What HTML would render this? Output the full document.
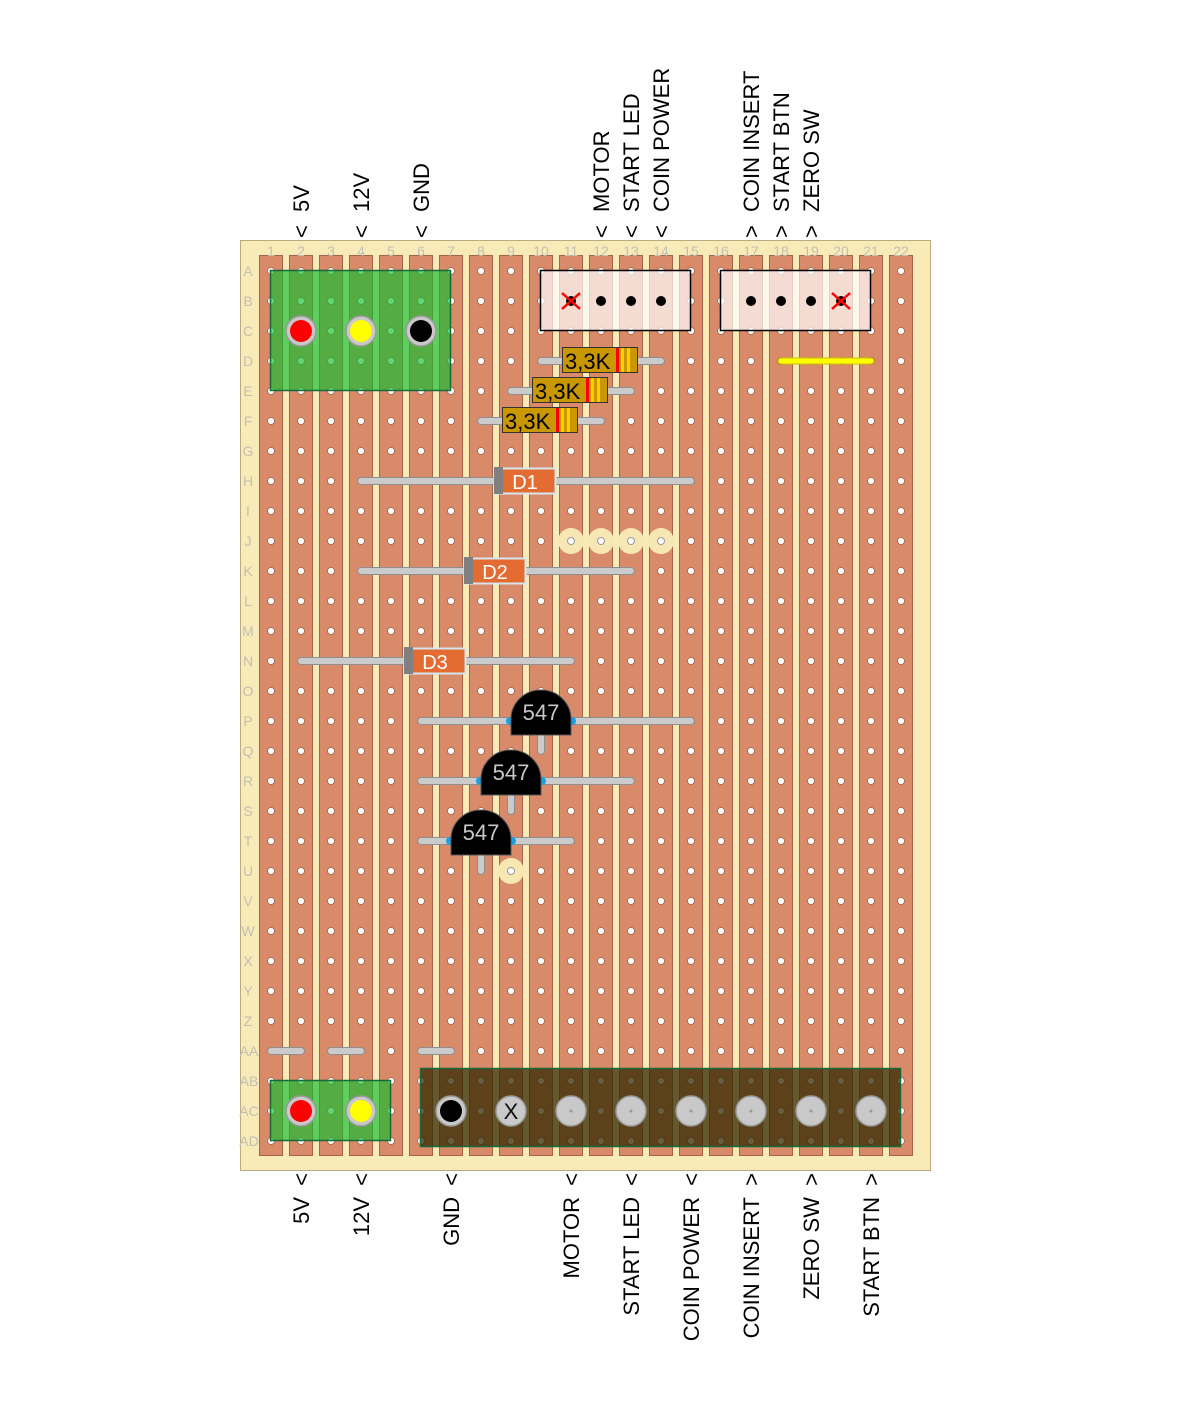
<!DOCTYPE html>
<html><head><meta charset="utf-8"><style>
html,body{margin:0;padding:0;background:#fff;}
svg{display:block;}
text{font-family:"Liberation Sans",sans-serif;}
</style></head><body>
<svg id="s" width="1178" height="1415" viewBox="0 0 1178 1415" xmlns="http://www.w3.org/2000/svg">
<rect x="240.5" y="240.5" width="690" height="930" fill="#f9ebb7" stroke="#b9ab80" stroke-width="1"/>
<g id="strips"></g>
<g id="holes"></g>
<g font-size="14" fill="#c2bfb4" text-anchor="middle">
<text x="271" y="256">1</text><text x="301" y="256">2</text><text x="331" y="256">3</text><text x="361" y="256">4</text><text x="391" y="256">5</text><text x="421" y="256">6</text><text x="451" y="256">7</text><text x="481" y="256">8</text><text x="511" y="256">9</text><text x="541" y="256">10</text><text x="571" y="256">11</text><text x="601" y="256">12</text><text x="631" y="256">13</text><text x="661" y="256">14</text><text x="691" y="256">15</text><text x="721" y="256">16</text><text x="751" y="256">17</text><text x="781" y="256">18</text><text x="811" y="256">19</text><text x="841" y="256">20</text><text x="871" y="256">21</text><text x="901" y="256">22</text>
</g>
<g font-size="14" fill="#c2bfb4" text-anchor="middle">
<text x="248" y="276">A</text><text x="248" y="306">B</text><text x="248" y="336">C</text><text x="248" y="366">D</text><text x="248" y="396">E</text><text x="248" y="426">F</text><text x="248" y="456">G</text><text x="248" y="486">H</text><text x="248" y="516">I</text><text x="248" y="546">J</text><text x="248" y="576">K</text><text x="248" y="606">L</text><text x="248" y="636">M</text><text x="248" y="666">N</text><text x="248" y="696">O</text><text x="248" y="726">P</text><text x="248" y="756">Q</text><text x="248" y="786">R</text><text x="248" y="816">S</text><text x="248" y="846">T</text><text x="248" y="876">U</text><text x="248" y="906">V</text><text x="248" y="936">W</text><text x="248" y="966">X</text><text x="248" y="996">Y</text><text x="248" y="1026">Z</text><text x="249" y="1056">AA</text><text x="249" y="1086">AB</text><text x="249" y="1116">AC</text><text x="249" y="1146">AD</text>
</g>

<!-- pads -->
<g fill="#f7e8b3">
<circle cx="571" cy="541" r="13"/><circle cx="601" cy="541" r="13"/><circle cx="631" cy="541" r="13"/><circle cx="661" cy="541" r="13"/><circle cx="511" cy="871" r="13"/>
</g>
<g fill="#fff" stroke="#999" stroke-width="1">
<circle cx="571" cy="541" r="3.5"/><circle cx="601" cy="541" r="3.5"/><circle cx="631" cy="541" r="3.5"/><circle cx="661" cy="541" r="3.5"/><circle cx="511" cy="871" r="3.5"/>
</g>

<!-- green blocks -->
<rect x="270.5" y="270.5" width="180" height="120" fill="rgba(14,190,48,0.65)" stroke="#17683a" stroke-width="1.5"/>
<rect x="270.5" y="1080.5" width="120" height="60" fill="rgba(14,190,48,0.65)" stroke="#17683a" stroke-width="1.5"/>
<rect x="420.5" y="1068.5" width="480" height="78" fill="rgba(50,40,0,0.75)" stroke="#17683a" stroke-width="1.5"/>

<!-- terminals top -->
<g stroke="#999" stroke-width="1.5" fill="#c9c9c9">
<circle cx="301" cy="331" r="15"/><circle cx="361" cy="331" r="15"/><circle cx="421" cy="331" r="15"/>
<circle cx="301" cy="1111" r="15"/><circle cx="361" cy="1111" r="15"/>
<circle cx="451" cy="1111" r="15"/><circle cx="511" cy="1111" r="15"/>
<circle cx="571" cy="1111" r="15"/><circle cx="631" cy="1111" r="15"/><circle cx="691" cy="1111" r="15"/><circle cx="751" cy="1111" r="15"/><circle cx="811" cy="1111" r="15"/><circle cx="871" cy="1111" r="15"/>
</g>
<circle cx="301" cy="331" r="11" fill="#f00"/><circle cx="361" cy="331" r="11" fill="#ff0"/><circle cx="421" cy="331" r="11" fill="#000"/>
<circle cx="301" cy="1111" r="11" fill="#f00"/><circle cx="361" cy="1111" r="11" fill="#ff0"/><circle cx="451" cy="1111" r="11" fill="#000"/>
<text x="511" y="1119" font-size="22" text-anchor="middle" fill="#111">X</text>
<g fill="#999"><circle cx="571" cy="1111" r="1.5"/><circle cx="631" cy="1111" r="1.5"/><circle cx="691" cy="1111" r="1.5"/><circle cx="751" cy="1111" r="1.5"/><circle cx="811" cy="1111" r="1.5"/><circle cx="871" cy="1111" r="1.5"/></g>

<!-- headers -->
<rect x="540.5" y="270.5" width="150" height="60" fill="rgba(255,255,255,0.7)" stroke="#000" stroke-width="1.5"/>
<rect x="720.5" y="270.5" width="150" height="60" fill="rgba(255,255,255,0.7)" stroke="#000" stroke-width="1.5"/>
<g fill="#000">
<circle cx="571" cy="301" r="5"/><circle cx="601" cy="301" r="5"/><circle cx="631" cy="301" r="5"/><circle cx="661" cy="301" r="5"/>
<circle cx="751" cy="301" r="5"/><circle cx="781" cy="301" r="5"/><circle cx="811" cy="301" r="5"/><circle cx="841" cy="301" r="5"/>
</g>
<g stroke="#f00" stroke-width="2.5">
<line x1="562" y1="293" x2="580" y2="309"/><line x1="580" y1="293" x2="562" y2="309"/>
<line x1="832" y1="293" x2="850" y2="309"/><line x1="850" y1="293" x2="832" y2="309"/>
</g>

<!-- leads -->
<g stroke="#8e8e8e" stroke-width="8" stroke-linecap="round">
<line x1="541" y1="361" x2="661" y2="361"/><line x1="511" y1="391" x2="631" y2="391"/><line x1="481" y1="421" x2="601" y2="421"/>
<line x1="361" y1="481" x2="691" y2="481"/><line x1="361" y1="571" x2="631" y2="571"/><line x1="301" y1="661" x2="571" y2="661"/>
<line x1="421" y1="721" x2="691" y2="721"/><line x1="421" y1="781" x2="631" y2="781"/><line x1="421" y1="841" x2="571" y2="841"/>
<line x1="541" y1="721" x2="541" y2="751"/><line x1="511" y1="781" x2="511" y2="811"/><line x1="481" y1="841" x2="481" y2="871"/>
<line x1="271" y1="1051" x2="301" y2="1051"/><line x1="331" y1="1051" x2="361" y2="1051"/><line x1="421" y1="1051" x2="451" y2="1051"/>
</g>
<g stroke="#cbcbcb" stroke-width="6" stroke-linecap="round">
<line x1="541" y1="361" x2="661" y2="361"/><line x1="511" y1="391" x2="631" y2="391"/><line x1="481" y1="421" x2="601" y2="421"/>
<line x1="361" y1="481" x2="691" y2="481"/><line x1="361" y1="571" x2="631" y2="571"/><line x1="301" y1="661" x2="571" y2="661"/>
<line x1="421" y1="721" x2="691" y2="721"/><line x1="421" y1="781" x2="631" y2="781"/><line x1="421" y1="841" x2="571" y2="841"/>
<line x1="541" y1="721" x2="541" y2="751"/><line x1="511" y1="781" x2="511" y2="811"/><line x1="481" y1="841" x2="481" y2="871"/>
<line x1="271" y1="1051" x2="301" y2="1051"/><line x1="331" y1="1051" x2="361" y2="1051"/><line x1="421" y1="1051" x2="451" y2="1051"/>
</g>
<line x1="781" y1="361" x2="871" y2="361" stroke="#c8c000" stroke-width="7" stroke-linecap="round"/>
<line x1="781" y1="361" x2="871" y2="361" stroke="#ffff00" stroke-width="5" stroke-linecap="round"/>

<!-- resistors -->
<g>
<rect x="562.5" y="347.5" width="75" height="25" fill="#c99700" stroke="#333"/>
<rect x="616" y="348" width="3" height="24" fill="#f00"/><rect x="621" y="348" width="3" height="24" fill="#ffcc00"/><rect x="627" y="348" width="3" height="24" fill="#ffcc00"/>
<text x="565" y="369" font-size="22" fill="#000">3,3K</text>
<rect x="532.5" y="377.5" width="75" height="25" fill="#c99700" stroke="#333"/>
<rect x="586" y="378" width="3" height="24" fill="#f00"/><rect x="591" y="378" width="3" height="24" fill="#ffcc00"/><rect x="597" y="378" width="3" height="24" fill="#ffcc00"/>
<text x="535" y="399" font-size="22" fill="#000">3,3K</text>
<rect x="502.5" y="407.5" width="75" height="25" fill="#c99700" stroke="#333"/>
<rect x="556" y="408" width="3" height="24" fill="#f00"/><rect x="561" y="408" width="3" height="24" fill="#ffcc00"/><rect x="567" y="408" width="3" height="24" fill="#ffcc00"/>
<text x="505" y="429" font-size="22" fill="#000">3,3K</text>
</g>

<!-- diodes -->
<g>
<rect x="494.5" y="468.5" width="61" height="25" fill="#e46c32" stroke="#d5e6f0" stroke-width="2"/>
<rect x="494" y="467" width="9" height="27" fill="#808080"/>
<text x="525" y="489" font-size="20" fill="#fff" text-anchor="middle">D1</text>
<rect x="464.5" y="558.5" width="61" height="25" fill="#e46c32" stroke="#d5e6f0" stroke-width="2"/>
<rect x="464" y="557" width="9" height="27" fill="#808080"/>
<text x="495" y="579" font-size="20" fill="#fff" text-anchor="middle">D2</text>
<rect x="404.5" y="648.5" width="61" height="25" fill="#e46c32" stroke="#d5e6f0" stroke-width="2"/>
<rect x="404" y="647" width="9" height="27" fill="#808080"/>
<text x="435" y="669" font-size="20" fill="#fff" text-anchor="middle">D3</text>
</g>

<!-- transistors -->
<g fill="#1aa0e0"><circle cx="510" cy="721" r="4"/><circle cx="572" cy="721" r="4"/><circle cx="480" cy="781" r="4"/><circle cx="542" cy="781" r="4"/><circle cx="450" cy="841" r="4"/><circle cx="512" cy="841" r="4"/></g>
<g fill="#000" stroke="#555" stroke-width="1">
<path d="M511,735 L511,719 A30,29 0 0 1 571,719 L571,735 Z"/>
<path d="M481,795 L481,779 A30,29 0 0 1 541,779 L541,795 Z"/>
<path d="M451,855 L451,839 A30,29 0 0 1 511,839 L511,855 Z"/>
</g>
<g font-size="22" fill="#c8c8c8" text-anchor="middle">
<text x="541" y="720">547</text><text x="511" y="780">547</text><text x="481" y="840">547</text>
</g>

<!-- top labels -->
<g font-size="22" fill="#000">
<text transform="translate(309,212) rotate(-90)">5V</text>
<text transform="translate(369,212) rotate(-90)">12V</text>
<text transform="translate(429,212) rotate(-90)">GND</text>
<text transform="translate(609,212) rotate(-90)">MOTOR</text>
<text transform="translate(639,212) rotate(-90)">START LED</text>
<text transform="translate(669,212) rotate(-90)">COIN POWER</text>
<text transform="translate(759,212) rotate(-90)">COIN INSERT</text>
<text transform="translate(789,212) rotate(-90)">START BTN</text>
<text transform="translate(819,212) rotate(-90)">ZERO SW</text>
<text transform="translate(309,238) rotate(-90)">&lt;</text>
<text transform="translate(369,238) rotate(-90)">&lt;</text>
<text transform="translate(429,238) rotate(-90)">&lt;</text>
<text transform="translate(609,238) rotate(-90)">&lt;</text>
<text transform="translate(639,238) rotate(-90)">&lt;</text>
<text transform="translate(669,238) rotate(-90)">&lt;</text>
<text transform="translate(759,238) rotate(-90)">&gt;</text>
<text transform="translate(789,238) rotate(-90)">&gt;</text>
<text transform="translate(819,238) rotate(-90)">&gt;</text>
</g>
<!-- bottom labels -->
<g font-size="22" fill="#000" text-anchor="end">
<text transform="translate(309,1197) rotate(-90)">5V</text>
<text transform="translate(369,1197) rotate(-90)">12V</text>
<text transform="translate(459,1197) rotate(-90)">GND</text>
<text transform="translate(579,1197) rotate(-90)">MOTOR</text>
<text transform="translate(639,1197) rotate(-90)">START LED</text>
<text transform="translate(699,1197) rotate(-90)">COIN POWER</text>
<text transform="translate(759,1197) rotate(-90)">COIN INSERT</text>
<text transform="translate(819,1197) rotate(-90)">ZERO SW</text>
<text transform="translate(879,1197) rotate(-90)">START BTN</text>
<text transform="translate(309,1173) rotate(-90)">&lt;</text>
<text transform="translate(369,1173) rotate(-90)">&lt;</text>
<text transform="translate(459,1173) rotate(-90)">&lt;</text>
<text transform="translate(579,1173) rotate(-90)">&lt;</text>
<text transform="translate(639,1173) rotate(-90)">&lt;</text>
<text transform="translate(699,1173) rotate(-90)">&lt;</text>
<text transform="translate(759,1173) rotate(-90)">&gt;</text>
<text transform="translate(819,1173) rotate(-90)">&gt;</text>
<text transform="translate(879,1173) rotate(-90)">&gt;</text>
</g>
</svg>
<script>
(function(){
var NS="http://www.w3.org/2000/svg";
var st=document.getElementById("strips"),ho=document.getElementById("holes");
for(var c=0;c<22;c++){
  var x=271+c*30;
  var r=document.createElementNS(NS,"rect");
  r.setAttribute("x",x-11.5);r.setAttribute("y",255.5);r.setAttribute("width",23);r.setAttribute("height",900);
  r.setAttribute("fill","#d98a69");r.setAttribute("stroke","#a4634a");r.setAttribute("stroke-width","1");
  st.appendChild(r);
  for(var i=0;i<30;i++){
    var h=document.createElementNS(NS,"circle");
    h.setAttribute("cx",x);h.setAttribute("cy",271+i*30);h.setAttribute("r",3.5);
    h.setAttribute("fill","#fff");h.setAttribute("stroke","#a4634a");h.setAttribute("stroke-width","0.8");
    ho.appendChild(h);
  }
}
})();
</script>
</body></html>
